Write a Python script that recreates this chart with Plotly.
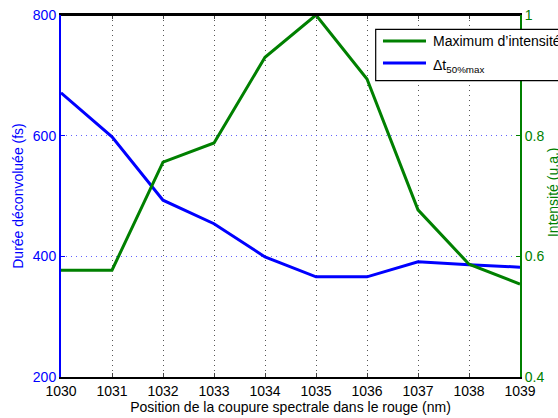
import plotly.graph_objects as go

x_pos = [1030, 1031, 1032, 1033, 1034, 1035, 1036, 1037, 1038, 1039]
duree_fs = [671, 598, 493, 454, 399, 366, 366, 391, 386, 382]
intensite = [0.577, 0.577, 0.756, 0.788, 0.930, 1.0, 0.894, 0.677, 0.587, 0.554]

left_ticks = [200, 400, 600, 800]
right_ticks = [0.4, 0.6, 0.8, 1.0]
right_ticklabels = ["0.4", "0.6", "0.8", "1"]
legend_names = ["Maximum d’intensité", "Δt<sub>50%max</sub>"]

BLUE = "#0000ff"
GREEN = "#008000"
FONT = "Liberation Sans, Arial, sans-serif"

fig = go.Figure()
fig.add_trace(go.Scatter(x=x_pos, y=intensite, mode="lines", name=legend_names[0],
                         line=dict(color=GREEN, width=3), yaxis="y2"))
fig.add_trace(go.Scatter(x=x_pos, y=duree_fs, mode="lines", name=legend_names[1],
                         line=dict(color=BLUE, width=3), yaxis="y"))

fig.update_layout(
    width=558, height=418,
    margin=dict(l=61, r=38, t=15, b=41, autoexpand=False),
    paper_bgcolor="white", plot_bgcolor="white",
    font=dict(family=FONT, size=14, color="black"),
    showlegend=False,
    xaxis=dict(range=[1030, 1039], tickvals=x_pos, ticks="inside", ticklen=4,
               showline=True, linecolor="black", linewidth=2, mirror="ticks",
               showgrid=True, gridcolor="#555555", griddash="1px,4px", gridwidth=1,
               zeroline=False, tickfont=dict(size=14, color="black"),
               ticklabeloverflow="allow",
               title=dict(text="Position de la coupure spectrale dans le rouge (nm)",
                          font=dict(size=14), standoff=0)),
    yaxis=dict(range=[200, 800], tickvals=left_ticks, ticks="inside", ticklen=4,
               tickcolor=BLUE, showline=True, linecolor=BLUE, linewidth=2,
               showgrid=True, gridcolor="rgba(80,80,255,0.9)", griddash="1px,4px", gridwidth=1,
               zeroline=False, tickfont=dict(size=14, color=BLUE),
               ticklabeloverflow="allow",
               title=dict(text="Durée déconvoluée (fs)", font=dict(size=14, color=BLUE), standoff=6)),
    yaxis2=dict(range=[0.4, 1.0], tickvals=right_ticks, ticktext=right_ticklabels,
                overlaying="y", side="right", ticks="inside", ticklen=4,
                tickcolor=GREEN, showline=True, linecolor=GREEN, linewidth=2,
                showgrid=False, zeroline=False, tickfont=dict(size=14, color=GREEN),
                ticklabeloverflow="allow"),
)

# right axis title, placed like the reference (partly past the right edge)
fig.add_annotation(x=1.0719, y=0.511, xref="paper", yref="paper", text="Intensité (u.a.)",
                   textangle=-90, showarrow=False, xanchor="center", yanchor="middle",
                   font=dict(size=14, color=GREEN))

# top border (black) of the axes box
fig.add_shape(type="line", xref="paper", yref="paper", x0=0, x1=1, y0=1, y1=1,
              line=dict(color="black", width=2), layer="above")

# MATLAB-style legend box (clipped at the right edge like the reference)
fig.add_shape(type="rect", xref="paper", yref="paper", x0=0.6856, x1=1.12, y0=0.8185, y1=0.9605,
              line=dict(color="black", width=1.2), fillcolor="white", layer="above")
for name, col, yl, yt in [(legend_names[0], GREEN, 0.9282, 0.9282),
                          (legend_names[1], BLUE, 0.8674, 0.858)]:
    fig.add_shape(type="line", xref="paper", yref="paper", x0=0.7015, x1=0.7952, y0=yl, y1=yl,
                  line=dict(color=col, width=3), layer="above")
    fig.add_annotation(x=0.8061, y=yt, xref="paper", yref="paper", text=name, showarrow=False,
                       xanchor="left", yanchor="middle", font=dict(size=14, color="black"))

# remove the page's default body margin and scrollbars so the figure fills the window
page_fix = ("document.documentElement.style.overflow='hidden';"
            "document.body.style.margin='0';document.body.style.overflow='hidden';")

fig.write_html("out.html", post_script=page_fix,
               config={"displayModeBar": False, "staticPlot": True})
